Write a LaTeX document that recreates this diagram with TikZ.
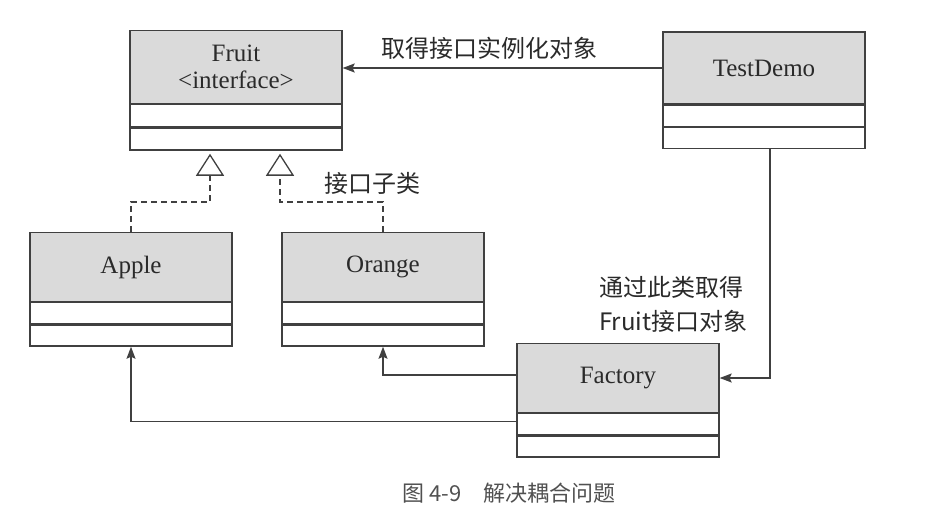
\documentclass[tikz,border=0pt]{standalone}
\usepackage{fontspec}
\setmainfont{Liberation Serif}
\newfontfamily\cjk{Noto Sans CJK SC}
\usepackage{xcolor}
\usetikzlibrary{positioning,arrows.meta}
\definecolor{linegray}{HTML}{404040}
\definecolor{headgray}{HTML}{DADADA}
\definecolor{textgray}{HTML}{2A2A2A}
\definecolor{capgray}{HTML}{505050}

\begin{document}
\begin{tikzpicture}[x=1pt, y=-1pt, node distance=0pt,
    head/.style={rectangle, draw=linegray, line width=1.3pt, fill=headgray, minimum width=202pt, minimum height=69pt, text=textgray, font=\fontsize{25}{27}\selectfont, align=center, inner sep=0pt},
    part/.style={rectangle, draw=linegray, line width=1.3pt, fill=white, minimum width=202pt, minimum height=21pt, inner sep=0pt},
    line/.style={draw=linegray, line width=1.3pt, -{Stealth[length=12pt, width=9pt, inset=2pt]}},
    realize/.style={draw=linegray, line width=1.3pt, dash pattern=on 6pt off 4pt, -{Triangle[open, length=22pt, width=28pt, fill=white]}},
    lbl/.style={text=textgray, font=\cjk\fontsize{24}{34}\selectfont, inner sep=0pt}]
    \useasboundingbox (0,0) rectangle (936,530);

    % interface and client
    \node [head, minimum width=212pt, minimum height=73pt] (fruit) at (236,67) {Fruit\\<interface>};
    \node [part, minimum width=212pt, minimum height=22pt, below=of fruit] (fruitA) {};
    \node [part, minimum width=212pt, minimum height=22pt, below=of fruitA] (fruitB) {};

    \node [head, minimum height=72pt] (testdemo) at (764,68) {TestDemo};
    \node [part, below=of testdemo] (testdemoA) {};
    \node [part, below=of testdemoA] (testdemoB) {};

    % implementations
    \node [head] (apple) at (131,267) {Apple};
    \node [part, below=of apple] (appleA) {};
    \node [part, below=of appleA] (appleB) {};

    \node [head] (orange) at (383,267) {Orange};
    \node [part, below=of orange] (orangeA) {};
    \node [part, below=of orangeA] (orangeB) {};

    % factory
    \node [head] (factory) at (618,378) {Factory};
    \node [part, below=of factory] (factoryA) {};
    \node [part, below=of factoryA] (factoryB) {};

    \node [lbl] (sublbl) at (372,183) {接口子类};

    \path [line] (testdemo.west) -- node [lbl, above=8pt, pos=0.54] (getlbl) {取得接口实例化对象} (testdemo.west -| fruit.east);
    \path [realize] (apple.north) -- ++(0,-30) -| ([xshift=-26pt, yshift=-3pt]fruitB.south);
    \path [realize] (orange.north) -- ++(0,-30) -| ([xshift=44pt, yshift=-3pt]fruitB.south);
    \path [line] ([yshift=3pt]factory.west) -| (orangeB.south);
    \path [line] ([yshift=3pt]factoryA.west) -| (appleB.south);
    \path [line] ([xshift=6pt]testdemoB.south) |- node [lbl, pos=0.34, left=22pt, align=left] (viallbl) {通过此类取得\\Fruit接口对象} (factory.east);

    \node [font=\cjk\fontsize{22}{26}\selectfont, text=capgray] (caption) at (509,493) {图 4-9\quad 解决耦合问题};
\end{tikzpicture}
\end{document}
